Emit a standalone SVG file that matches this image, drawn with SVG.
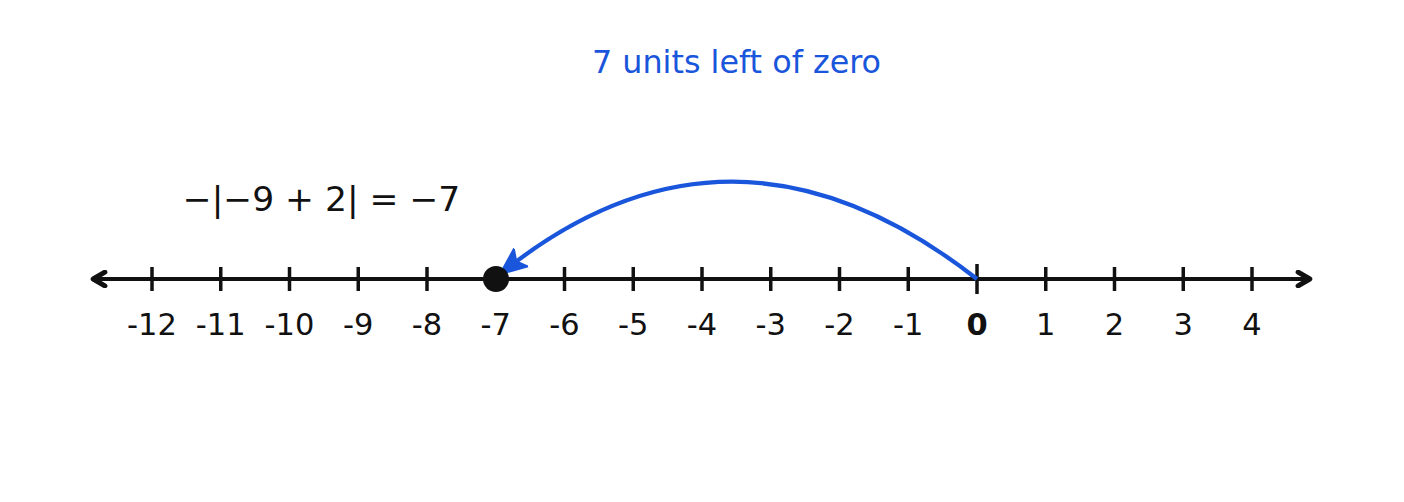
<svg xmlns="http://www.w3.org/2000/svg" width="1404" height="502" viewBox="0 0 1404 502">
<style>
text{font-family:"DejaVu Sans","Noto Sans",sans-serif;fill:#111}
.tick{stroke:#111;stroke-width:3.5}
.lbl{font-size:30.5px;text-anchor:middle}
</style>
<defs>
<marker id="ah" viewBox="0 0 10 10" refX="7" refY="5" markerWidth="4.5" markerHeight="4.5" orient="auto-start-reverse" markerUnits="strokeWidth">
<path d="M1.5,1.2 L8,5 L1.5,8.8" fill="none" stroke="#111" stroke-width="2.8" stroke-linecap="round" stroke-linejoin="round"/>
</marker>
<marker id="bh" viewBox="0 0 10 10" refX="8" refY="5" markerWidth="6.5" markerHeight="6.5" orient="auto" markerUnits="strokeWidth">
<path d="M0,0.8 L10,5 L0,9.2 L2.2,5 Z" fill="#1a56db" stroke="#1a56db" stroke-width="0.6" stroke-linejoin="round"/>
</marker>
</defs>
<rect width="1404" height="502" fill="#fff"/>
<g id="axis">
<line x1="95" y1="279" x2="1308" y2="279" stroke="#111" stroke-width="4" marker-start="url(#ah)" marker-end="url(#ah)"/>
</g>
<g id="ticks">
<line class="tick" x1="152" y1="267" x2="152" y2="291"/>
<line class="tick" x1="220.75" y1="267" x2="220.75" y2="291"/>
<line class="tick" x1="289.5" y1="267" x2="289.5" y2="291"/>
<line class="tick" x1="358.25" y1="267" x2="358.25" y2="291"/>
<line class="tick" x1="427" y1="267" x2="427" y2="291"/>
<line class="tick" x1="495.75" y1="267" x2="495.75" y2="291"/>
<line class="tick" x1="564.5" y1="267" x2="564.5" y2="291"/>
<line class="tick" x1="633.25" y1="267" x2="633.25" y2="291"/>
<line class="tick" x1="702" y1="267" x2="702" y2="291"/>
<line class="tick" x1="770.75" y1="267" x2="770.75" y2="291"/>
<line class="tick" x1="839.5" y1="267" x2="839.5" y2="291"/>
<line class="tick" x1="908.25" y1="267" x2="908.25" y2="291"/>
<line class="tick" x1="977" y1="264" x2="977" y2="294" stroke-width="4.5"/>
<line class="tick" x1="1045.75" y1="267" x2="1045.75" y2="291"/>
<line class="tick" x1="1114.5" y1="267" x2="1114.5" y2="291"/>
<line class="tick" x1="1183.25" y1="267" x2="1183.25" y2="291"/>
<line class="tick" x1="1252" y1="267" x2="1252" y2="291"/>
</g>
<g id="labels">
<text class="lbl" x="152" y="335">-12</text>
<text class="lbl" x="220.75" y="335">-11</text>
<text class="lbl" x="289.5" y="335">-10</text>
<text class="lbl" x="358.25" y="335">-9</text>
<text class="lbl" x="427" y="335">-8</text>
<text class="lbl" x="495.75" y="335">-7</text>
<text class="lbl" x="564.5" y="335">-6</text>
<text class="lbl" x="633.25" y="335">-5</text>
<text class="lbl" x="702" y="335">-4</text>
<text class="lbl" x="770.75" y="335">-3</text>
<text class="lbl" x="839.5" y="335">-2</text>
<text class="lbl" x="908.25" y="335">-1</text>
<text class="lbl" x="977" y="335" font-weight="bold">0</text>
<text class="lbl" x="1045.75" y="335">1</text>
<text class="lbl" x="1114.5" y="335">2</text>
<text class="lbl" x="1183.25" y="335">3</text>
<text class="lbl" x="1252" y="335">4</text>
</g>
<g id="connectors">
<path d="M977,279 Q733.5,88.5 504,271" fill="none" stroke="#1a56db" stroke-width="4.2" marker-end="url(#bh)"/>
</g>
<g id="point">
<circle cx="496" cy="279" r="13" fill="#111"/>
</g>
<g id="equation">
<text x="321.5" y="211" font-size="34.5" text-anchor="middle">−|−9 + 2| = −7</text>
</g>
<g id="title">
<text x="736.5" y="73" font-size="31.8" text-anchor="middle" style="fill:#1a56db">7 units left of zero</text>
</g>
</svg>
